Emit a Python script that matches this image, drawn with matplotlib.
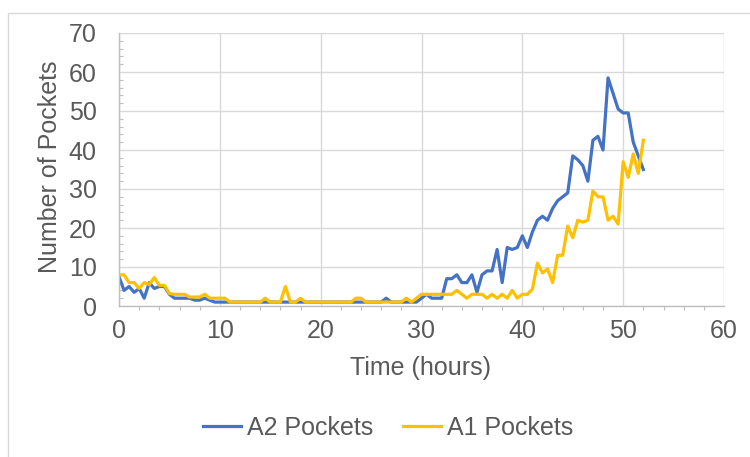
import numpy as np
import matplotlib
matplotlib.use("Agg")
import matplotlib.pyplot as plt
from matplotlib.ticker import MultipleLocator
from matplotlib.patches import Rectangle

# -------------------- Data --------------------
# readings every half hour, 0 .. 52 h
time_h = np.arange(0, 52.5, 0.5)

a2_pockets = [
    7.5, 4, 5, 3.5, 4.5, 2, 6, 4.5, 5, 5,            # 0 - 4.5
    3, 2, 2, 2, 2, 1.5, 1.5, 2, 1.5, 1,              # 5 - 9.5
    1, 1, 1, 1, 1, 1, 1, 1, 1, 1,                    # 10 - 14.5
    1, 1, 1, 1, 1, 1, 1, 1, 1, 1,                    # 15 - 19.5
    1, 1, 1, 1, 1, 1, 1, 1, 1, 1,                    # 20 - 24.5
    1, 1, 1, 2, 1, 1, 1, 1, 1, 1,                    # 25 - 29.5
    2, 3, 2, 2, 2, 7, 7, 8, 6, 6,                    # 30 - 34.5
    8, 3.5, 8, 9, 9, 14.5, 6, 15, 14.5, 15,          # 35 - 39.5
    18, 15, 19, 22, 23, 22, 25, 27, 28, 29,          # 40 - 44.5
    38.5, 37.5, 36, 32, 42.5, 43.5, 40, 58.5, 54.5, 50.5,  # 45 - 49.5
    49.5, 49.5, 42, 38.5, 35,                        # 50 - 52
]

a1_pockets = [
    8, 8, 6, 6, 4.5, 6, 5.5, 7.3, 5.3, 5.3,
    3.2, 3, 3, 3, 2.3, 2.3, 2.3, 3, 2, 2,
    2, 2, 1, 1, 1, 1, 1, 1, 1, 2,
    1, 1, 1, 5, 1, 1, 2, 1, 1, 1,
    1, 1, 1, 1, 1, 1, 1, 2, 2, 1,
    1, 1, 1, 1, 1, 1, 1, 2, 1, 2,
    3, 3, 3, 3, 3, 3, 3, 4, 3, 2,
    3, 3, 3, 2, 3, 2, 3, 2, 4, 2,
    3, 3, 4.3, 11, 8.5, 9.5, 6, 13, 13, 20.5,
    17.5, 22, 21.5, 22, 29.5, 28, 28, 22, 23, 21,
    37, 33, 39, 34, 42.5,
]

# -------------------- Style --------------------
plt.rcParams['font.family'] = ['Liberation Sans', 'DejaVu Sans']
text_col = '#595959'
grid_col = '#d9d9d9'

fig = plt.figure(figsize=(7.5, 4.57), dpi=100)
ax = fig.add_axes([119 / 750, 1 - 306 / 457, 605 / 750, 273 / 457])

# chart area border (only left and top edges fall inside the picture)
fig.add_artist(Rectangle((8 / 750, -0.1), 1.2, 1.1 - 13 / 457,
                         transform=fig.transFigure, fill=False,
                         edgecolor=grid_col, lw=1.0))

ax.plot(time_h, a2_pockets, color='#4472C4', lw=2.3, label='A2 Pockets')
ax.plot(time_h, a1_pockets, color='#FFC000', lw=2.3, label='A1 Pockets')

ax.set_xlim(0, 60)
ax.set_ylim(0, 70)
ax.xaxis.set_major_locator(MultipleLocator(10))
ax.yaxis.set_major_locator(MultipleLocator(10))
ax.xaxis.set_minor_locator(MultipleLocator(2))
ax.yaxis.set_minor_locator(MultipleLocator(2))

ax.grid(True, which='major', color=grid_col, lw=1.0)
ax.set_axisbelow(True)
for s in ['top', 'right']:
    ax.spines[s].set_visible(False)
for s in ['left', 'bottom']:
    ax.spines[s].set_color('#bfbfbf')
    ax.spines[s].set_linewidth(1.0)

ax.tick_params(axis='both', which='major', length=0, labelsize=18,
               labelcolor=text_col)
ax.tick_params(axis='x', which='major', pad=9)
ax.tick_params(axis='y', which='major', pad=16)
ax.tick_params(axis='x', which='minor', direction='out', length=3,
               color='#bfbfbf', width=0.8)
ax.tick_params(axis='y', which='minor', direction='in', length=3,
               color='#bfbfbf', width=0.8)

fig.text(421 / 750, 1 - 368 / 457, 'Time (hours)', ha='center', va='center',
         fontsize=18, color=text_col)
fig.text(50 / 750, 1 - 167 / 457, 'Number of Pockets', ha='center',
         va='center', rotation=90, fontsize=18, color=text_col)

fig.legend(loc='center', bbox_to_anchor=(388 / 750, 1 - 428 / 457), ncol=2,
           frameon=False, fontsize=18, labelcolor=text_col, handlelength=1.5,
           handletextpad=0.25, columnspacing=1.2)

fig.savefig('out.png', dpi=100)
